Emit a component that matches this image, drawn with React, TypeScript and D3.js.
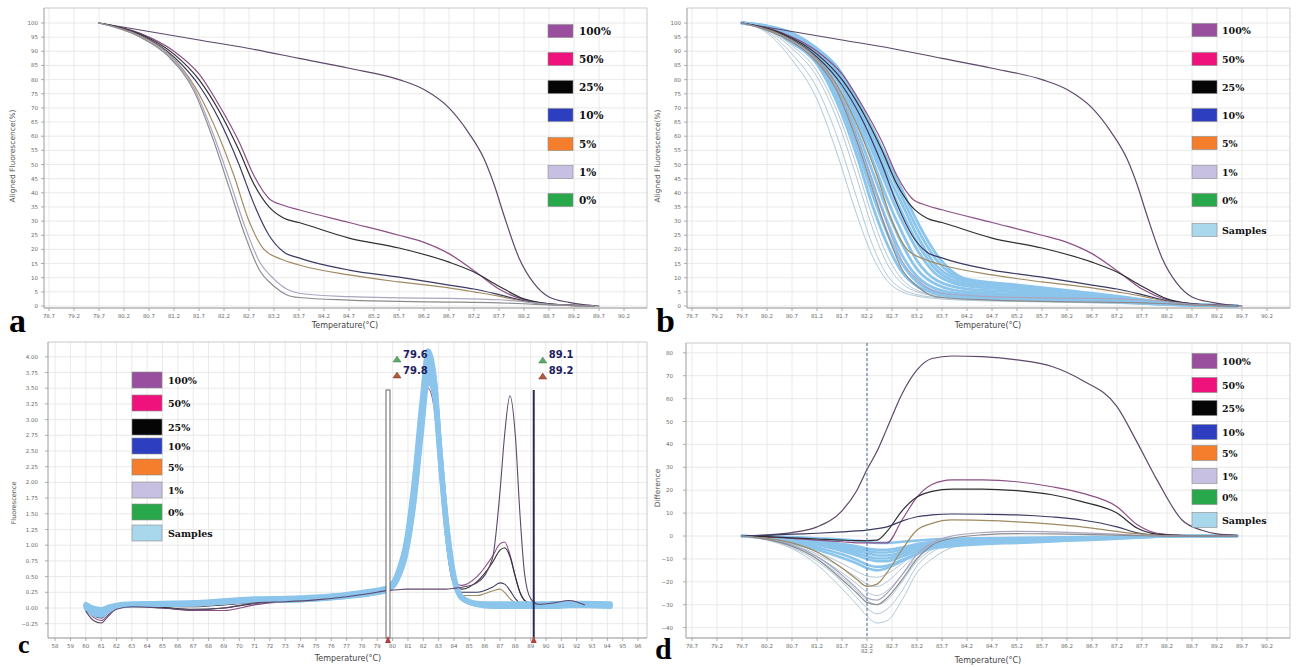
import React from 'react';
import * as d3 from 'd3';

// ---- tick values ----
const meltTicks = [78.7, 79.2, 79.7, 80.2, 80.7, 81.2, 81.7, 82.2, 82.7, 83.2, 83.7, 84.2, 84.7, 85.2, 85.7, 86.2, 86.7, 87.2, 87.7, 88.2, 88.7, 89.2, 89.7, 90.2];
const alignedTicks = [0, 5, 10, 15, 20, 25, 30, 35, 40, 45, 50, 55, 60, 65, 70, 75, 80, 85, 90, 95, 100];
const peakTicks = [58, 59, 60, 61, 62, 63, 64, 65, 66, 67, 68, 69, 70, 71, 72, 73, 74, 75, 76, 77, 78, 79, 80, 81, 82, 83, 84, 85, 86, 87, 88, 89, 90, 91, 92, 93, 94, 95, 96];
const peakYTicks = [-0.25, 0, 0.25, 0.5, 0.75, 1, 1.25, 1.5, 1.75, 2, 2.25, 2.5, 2.75, 3, 3.25, 3.5, 3.75, 4];
const diffYTicks = [-40, -30, -20, -10, 0, 10, 20, 30, 40, 50, 60, 70, 80];

// ---- legend ----
const stdNames = ['100%', '50%', '25%', '10%', '5%', '1%', '0%'];
const stdSwatch = ['#9a4f9e', '#f0127c', '#050505', '#2d3fc0', '#f47e2b', '#c8c0e2', '#29a74b'];
const stdLine = ['#5d4868', '#8c4f86', '#2e2e34', '#3b3b62', '#a08a62', '#aaa6c0', '#8a8c90'];
const sampleName = 'Samples';
const sampleSwatch = '#a9d8ec';
const sampleLine = '#8cc5ec';
const sampleLight = '#b2c8d6';

// ---- panel a / b : aligned melt curves (T, %) ----
const melt100 = [[79.7, 100], [80.7, 97], [81.7, 94], [82.7, 91], [83.7, 87.5], [84.7, 84], [85.7, 80], [86.2, 76.5], [86.7, 70], [87.1, 61], [87.4, 52], [87.6, 43], [87.8, 32], [88.1, 17], [88.4, 8], [88.7, 3.2], [89.1, 1.3], [89.5, 0.3], [89.7, 0]];
const melt50 = [[79.7, 100], [80.5, 96.5], [81.2, 90], [81.7, 82], [82.1, 71], [82.5, 58], [82.8, 46], [83.1, 38], [83.4, 35.5], [83.7, 34], [84.7, 29.5], [85.7, 25], [86.2, 22.5], [86.7, 18.5], [87.2, 12.5], [87.7, 6], [88.2, 2.2], [88.7, 0.8], [89.2, 0.3], [89.6, 0]];
const melt25 = [[79.7, 100], [80.5, 96.3], [81.2, 89], [81.7, 80], [82.1, 69], [82.5, 55], [82.8, 43], [83.1, 35], [83.4, 31], [83.7, 29.5], [84.7, 24], [85.7, 20.5], [86.7, 15.5], [87.2, 12], [87.7, 7], [88.2, 2.5], [88.7, 0.8], [89.6, 0]];
const melt10 = [[79.7, 100], [80.5, 96], [81.2, 88], [81.7, 78], [82.1, 66], [82.5, 50], [82.8, 36], [83.1, 25], [83.4, 19], [83.7, 17], [84.7, 12.7], [85.7, 10.2], [86.7, 7.4], [87.2, 6], [87.7, 4], [88.2, 1.8], [88.7, 0.6], [89.6, 0]];
const melt5 = [[79.7, 100], [80.5, 95.7], [81.1, 89], [81.6, 78], [82.0, 64], [82.4, 46], [82.7, 30], [83.0, 20], [83.35, 16.5], [83.7, 14.5], [84.7, 11], [85.7, 8.5], [86.7, 6.4], [87.2, 5], [87.7, 3.5], [88.2, 1.6], [88.7, 0.5], [89.6, 0]];
const melt1 = [[79.7, 100], [80.5, 95.3], [81.1, 88.5], [81.6, 77], [82.0, 60], [82.3, 45], [82.6, 29], [82.9, 16], [83.2, 9.5], [83.45, 6], [83.7, 4.5], [84.7, 3.3], [85.7, 2.9], [86.7, 2.7], [87.7, 2.2], [88.2, 1.5], [88.7, 0.6], [89.6, 0]];
const melt0 = [[79.7, 100], [80.5, 95.2], [81.1, 88], [81.6, 76], [82.0, 58], [82.3, 42], [82.6, 26], [82.9, 13], [83.2, 7], [83.45, 4], [83.7, 3], [84.7, 2.1], [85.7, 1.6], [86.7, 1.4], [87.7, 1.1], [88.2, 0.8], [88.7, 0.4], [89.6, 0]];
const meltStd = [melt100, melt50, melt25, melt10, melt5, melt1, melt0];

// panel b samples on a shared temperature grid
const meltSampleT = [79.7, 80.2, 80.7, 81.2, 81.6, 82.0, 82.3, 82.6, 82.9, 83.2, 83.6, 84.2, 85.2, 86.2, 87.2, 88.2, 89.2, 89.6];
const meltSamples = [
  [100, 99, 96.5, 91, 84.5, 73, 63, 52, 41, 30, 18, 9.5, 7.5, 5.5, 3.5, 1.2, 0.2, 0],
  [100, 98.9, 96.2, 90.5, 83.7, 71.5, 61, 49.5, 38.5, 27.5, 16, 9, 7.2, 5.2, 3.3, 1.1, 0.2, 0],
  [100, 98.8, 96, 90, 83, 70, 59, 47, 36, 25, 14, 8.5, 6.8, 5, 3.2, 1.1, 0.2, 0],
  [100, 98.7, 95.7, 89.7, 82.2, 68.5, 57, 44.5, 33, 22.5, 12.5, 7.7, 6.3, 4.7, 3, 1, 0.2, 0],
  [100, 98.6, 95.5, 89.5, 81.5, 67, 55, 42, 30, 20, 11, 7, 5.8, 4.4, 2.8, 1, 0.2, 0],
  [100, 98.5, 95, 89, 80, 65, 52, 38, 26, 16, 9, 6, 5, 3.9, 2.5, 0.9, 0.2, 0],
  [100, 98.4, 94.5, 88, 78, 62, 48, 34, 22, 13, 7.5, 5, 4.2, 3.4, 2.2, 0.8, 0.1, 0],
  [100, 98.3, 94, 87.5, 76, 59, 44, 30, 18, 10.5, 6, 4.2, 3.6, 3, 2, 0.7, 0.1, 0],
  [100, 98.2, 93.5, 86.5, 74, 56, 40, 26, 15, 8.5, 5, 3.5, 3, 2.6, 1.8, 0.6, 0.1, 0],
  [100, 98, 93, 85.5, 72, 53, 36, 22, 12, 7, 4.3, 3, 2.5, 2.2, 1.5, 0.5, 0.1, 0],
];
const meltSamplesLight = [
  [100, 97.8, 92, 83, 69, 49, 32, 18, 9.5, 5.5, 3.8, 2.7, 2.2, 1.8, 1.3, 0.4, 0.1, 0],
  [100, 97.5, 91, 81, 66, 45, 28, 15, 8, 5, 3.5, 2.5, 2, 1.7, 1.2, 0.4, 0.1, 0],
  [100, 97, 89, 77, 60, 38, 22, 11, 6, 4, 3, 2.2, 1.8, 1.5, 1, 0.3, 0, 0],
  [100, 96.5, 87, 73, 54, 32, 18, 9, 5, 3.5, 2.6, 2, 1.6, 1.3, 0.9, 0.3, 0, 0],
];

// ---- panel c : -dF/dT peaks ----
const peakT = [60, 60.5, 61, 61.5, 62, 63, 65, 67, 69, 71, 73, 75, 77, 78.5, 79.7, 80.3, 80.9, 81.4, 81.9, 82.3, 82.7, 83.1, 83.5, 83.9, 84.5, 85.5, 86.5, 87.0, 87.3, 87.65, 88.0, 88.3, 88.6, 89.0, 89.5, 90.5, 91.5, 92.5, 94.2];
const peak100 = [-0.05, -0.2, -0.24, -0.12, -0.02, 0.02, 0.0, -0.03, 0.0, 0.08, 0.1, 0.13, 0.18, 0.23, 0.28, 0.29, 0.3, 0.3, 0.3, 0.3, 0.3, 0.3, 0.3, 0.31, 0.33, 0.4, 0.78, 1.85, 2.75, 3.38, 2.75, 1.5, 0.55, 0.15, 0.06, 0.08, 0.12, 0.05, null];
const peak50 = [-0.02, -0.15, -0.2, -0.1, 0, 0.02, 0.0, -0.04, -0.04, 0.05, 0.1, 0.13, 0.18, 0.22, 0.3, 0.45, 0.9, 1.75, 2.95, 3.5, 3.2, 2.1, 1.05, 0.45, 0.36, 0.5, 0.82, 1.02, 1.05, 0.85, 0.5, 0.25, 0.12, 0.08, 0.06, 0.1, 0.08, 0.05, null];
const peak25 = [0, -0.12, -0.16, -0.06, 0.01, 0.03, 0.01, -0.02, 0.0, 0.07, 0.1, 0.13, 0.18, 0.22, 0.29, 0.45, 0.9, 1.75, 2.95, 3.6, 3.3, 2.2, 1.1, 0.45, 0.3, 0.42, 0.72, 0.92, 0.96, 0.82, 0.5, 0.25, 0.12, 0.07, 0.05, 0.07, 0.06, 0.05, null];
const peak10 = [0.01, -0.08, -0.1, -0.03, 0.02, 0.04, 0.03, 0.02, 0.05, 0.09, 0.11, 0.14, 0.19, 0.23, 0.29, 0.47, 0.95, 1.8, 3.0, 3.7, 3.4, 2.3, 1.15, 0.47, 0.25, 0.25, 0.33, 0.4, 0.38, 0.28, 0.15, 0.08, 0.05, 0.05, 0.05, 0.06, 0.06, 0.05, null];
const peak5 = [0.02, -0.06, -0.08, -0.02, 0.02, 0.04, 0.04, 0.03, 0.06, 0.1, 0.11, 0.14, 0.19, 0.23, 0.29, 0.47, 0.98, 1.85, 3.05, 3.75, 3.45, 2.35, 1.2, 0.47, 0.2, 0.2, 0.27, 0.3, 0.25, 0.15, 0.08, 0.05, 0.04, 0.04, 0.04, 0.05, 0.05, 0.05, null];
const peak1 = [0.02, -0.05, -0.06, 0, 0.03, 0.05, 0.05, 0.05, 0.08, 0.11, 0.12, 0.15, 0.19, 0.23, 0.29, 0.47, 1.0, 1.85, 3.05, 3.85, 3.5, 2.35, 1.2, 0.5, 0.15, 0.08, 0.06, 0.06, 0.05, 0.05, 0.05, 0.04, 0.04, 0.04, 0.04, 0.05, 0.05, 0.05, null];
const peak0 = [0.03, -0.04, -0.05, 0, 0.03, 0.05, 0.05, 0.06, 0.08, 0.11, 0.12, 0.15, 0.19, 0.23, 0.29, 0.47, 1.0, 1.85, 3.05, 3.9, 3.5, 2.35, 1.25, 0.52, 0.15, 0.06, 0.05, 0.05, 0.05, 0.05, 0.05, 0.04, 0.04, 0.04, 0.04, 0.05, 0.05, 0.05, null];
const peakStd = [peak100, peak50, peak25, peak10, peak5, peak1, peak0];
const peakSamples = [
  [0.05, -0.02, -0.04, 0.01, 0.04, 0.06, 0.07, 0.08, 0.11, 0.13, 0.14, 0.16, 0.2, 0.25, 0.31, 0.5, 1.0, 1.9, 3.15, 4.1, 3.75, 2.5, 1.35, 0.6, 0.17, 0.07, 0.05, 0.05, 0.05, 0.05, 0.05, 0.05, 0.05, 0.05, 0.05, 0.05, 0.06, 0.06, 0.05],
  [0.03, -0.05, -0.07, -0.01, 0.03, 0.05, 0.06, 0.07, 0.1, 0.12, 0.13, 0.15, 0.19, 0.24, 0.3, 0.48, 0.95, 1.8, 3.0, 3.95, 3.7, 2.55, 1.4, 0.62, 0.16, 0.06, 0.04, 0.04, 0.04, 0.04, 0.04, 0.04, 0.04, 0.04, 0.04, 0.04, 0.05, 0.05, 0.04],
  [0.0, -0.1, -0.12, -0.04, 0.02, 0.05, 0.06, 0.06, 0.09, 0.11, 0.12, 0.14, 0.18, 0.23, 0.29, 0.46, 0.9, 1.7, 2.9, 3.8, 3.6, 2.5, 1.4, 0.63, 0.15, 0.05, 0.03, 0.03, 0.03, 0.03, 0.03, 0.03, 0.03, 0.03, 0.03, 0.03, 0.04, 0.04, 0.03],
  [0.04, -0.03, -0.05, 0.0, 0.03, 0.06, 0.07, 0.08, 0.11, 0.14, 0.15, 0.17, 0.21, 0.26, 0.32, 0.52, 1.05, 1.95, 3.05, 3.7, 3.4, 2.3, 1.25, 0.55, 0.16, 0.07, 0.06, 0.06, 0.06, 0.06, 0.06, 0.06, 0.06, 0.06, 0.06, 0.06, 0.07, 0.07, 0.06],
  [0.02, -0.08, -0.1, -0.02, 0.02, 0.04, 0.05, 0.06, 0.09, 0.12, 0.12, 0.14, 0.18, 0.22, 0.28, 0.44, 0.88, 1.65, 2.8, 3.6, 3.45, 2.45, 1.45, 0.68, 0.18, 0.05, 0.02, 0.02, 0.02, 0.02, 0.02, 0.02, 0.02, 0.02, 0.02, 0.02, 0.03, 0.03, 0.02],
  [0.06, 0.0, -0.02, 0.02, 0.05, 0.07, 0.08, 0.09, 0.12, 0.15, 0.16, 0.18, 0.22, 0.27, 0.33, 0.55, 1.1, 2.05, 3.3, 4.05, 3.6, 2.35, 1.25, 0.55, 0.18, 0.08, 0.07, 0.07, 0.07, 0.07, 0.07, 0.07, 0.07, 0.07, 0.07, 0.07, 0.08, 0.08, 0.07],
];
const cursorT = [79.7, 89.2];
const cursorFlags = [['79.6', '79.8'], ['89.1', '89.2']];

// ---- panel d : difference plot ----
const diffT = [79.7, 80.2, 80.7, 81.2, 81.7, 82.0, 82.2, 82.4, 82.6, 82.9, 83.2, 83.5, 83.9, 84.5, 85.2, 85.9, 86.5, 87.2, 87.6, 88.0, 88.5, 88.9, 89.2, 89.6];
const diff100 = [0, 0.5, 1.5, 4, 11, 20, 29, 37, 47, 62, 72.5, 77.5, 78.6, 78.3, 76.9, 74, 68, 56.5, 41, 24.5, 7, 2.5, 0.9, 0.3];
const diff50 = [0, -0.5, -1, -1.8, -2.5, -3, -3, -3, -3, 7, 17, 22.5, 24.5, 24.5, 23.7, 21.5, 18.7, 12.8, 5, 1.2, 0.3, 0, 0, 0];
const diff25 = [0, -0.3, -0.8, -1.3, -1.8, -2, -2, -1.8, 2, 11, 17, 19.5, 20.5, 20.5, 19.8, 18, 15, 10, 3.5, 0.8, 0.2, 0, 0, 0];
const diff10 = [0, 0.3, 0.8, 1.2, 1.8, 2.2, 2.6, 3.2, 4, 6.5, 8.4, 9.2, 9.6, 9.5, 9.2, 8.3, 7, 4, 1.4, 0.3, 0, 0, 0, 0];
const diff5 = [0, -1, -3, -7, -14, -19, -22, -21, -16, -6, 2.6, 5.5, 7, 6.8, 6.2, 5.2, 4, 2, 1, 0.3, 0, 0, 0, 0];
const diff1 = [0, -1.5, -4, -9, -17, -23, -27, -28, -25, -17, -8, -3, 0, 1.5, 2, 1.8, 1.4, 0.8, 0.4, 0.1, 0, 0, 0, 0];
const diff0 = [0, -1.5, -4.5, -10, -19, -25, -29, -30, -27, -19, -10, -4, -1, 0.5, 1, 0.9, 0.7, 0.4, 0.2, 0, 0, 0, 0, 0];
const diffStd = [diff100, diff50, diff25, diff10, diff5, diff1, diff0];
const diffSamples = [
  [0, -0.2, -0.5, -1, -1.5, -2, -2.5, -3, -3, -2.5, -2, -1.5, -1.2, -1, -0.8, -0.6, -0.5, -0.3, -0.2, -0.1, 0, 0, 0, 0],
  [0, -0.3, -1, -2, -3.5, -4.5, -5.5, -6, -6, -5, -3.5, -2.5, -2, -1.6, -1.3, -1, -0.8, -0.5, -0.3, -0.15, 0, 0, 0, 0],
  [0, -0.4, -1.2, -2.5, -4.2, -5.5, -6.5, -7.2, -7.2, -6, -4.2, -3, -2.4, -1.9, -1.5, -1.2, -0.9, -0.6, -0.35, -0.2, 0, 0, 0, 0],
  [0, -0.5, -1.5, -3, -5, -6.5, -7.5, -8.5, -8.5, -7, -5, -3.5, -2.8, -2.2, -1.8, -1.4, -1.1, -0.7, -0.4, -0.2, 0, 0, 0, 0],
  [0, -0.6, -1.8, -3.5, -5.8, -7.5, -8.8, -9.8, -9.8, -8, -5.8, -4, -3.2, -2.5, -2, -1.6, -1.2, -0.8, -0.45, -0.2, 0, 0, 0, 0],
  [0, -0.7, -2, -4, -6.5, -8.5, -10, -11, -11, -9, -6.5, -4.5, -3.5, -2.8, -2.3, -1.8, -1.4, -0.9, -0.5, -0.2, 0, 0, 0, 0],
  [0, -1, -2.5, -5, -8, -10.5, -12.5, -13.5, -13, -10.5, -7.5, -5, -4, -3.2, -2.6, -2.1, -1.6, -1, -0.6, -0.3, 0, 0, 0, 0],
  [0, -1.2, -3, -6, -9.5, -12, -14, -15, -14, -11, -8, -5.5, -4.5, -3.6, -3, -2.4, -1.8, -1.2, -0.7, -0.3, 0, 0, 0, 0],
];
const diffSamplesLight = [
  [0, -1, -3, -7, -12, -15.5, -17.5, -18, -16.5, -12, -7, -4, -2.5, -1.5, -1, -0.6, -0.4, -0.2, -0.1, 0, 0, 0, 0, 0],
  [0, -1.2, -3.5, -8, -14, -18, -21, -22, -20, -14, -8, -4.5, -2.5, -1.5, -1, -0.6, -0.4, -0.2, -0.1, 0, 0, 0, 0, 0],
  [0, -1.3, -4, -9, -16, -21, -24.5, -26, -24, -17, -9.5, -5, -2.8, -1.6, -1, -0.6, -0.4, -0.2, -0.1, 0, 0, 0, 0, 0],
  [0, -1.5, -4.5, -10, -18, -24, -28, -30, -28, -20, -11, -6, -3, -1.7, -1.1, -0.7, -0.4, -0.2, -0.1, 0, 0, 0, 0, 0],
  [0, -1.6, -5, -11, -20, -27, -31.5, -34, -32, -24, -13, -7, -3.5, -1.9, -1.2, -0.7, -0.5, -0.2, -0.1, 0, 0, 0, 0, 0],
  [0, -1.8, -5.5, -12.5, -23, -30, -35, -38, -37, -28, -16, -10, -5, -2.5, -1.5, -1, -0.7, -0.4, -0.2, 0, 0, 0, 0, 0],
];
const diffMarkT = 82.2;

// ------------------------------------------------------------------
const FONT = 'DejaVu Sans, sans-serif';
const LEG_FONT = 'DejaVu Serif, serif';
const LETTER_FONT = 'Liberation Serif, serif';

const zip = (ts, vs) => ts.map((t, i) => [t, vs[i]]);

// x scale pinned so that value v0 sits at pixel p0
function xScale(v0, p0, ppu, left, right) {
  return d3.scaleLinear()
    .domain([v0 + (left - p0) / ppu, v0 + (right - p0) / ppu])
    .range([left, right]);
}
function yScale(v0, p0, ppu, top, bottom) {
  return d3.scaleLinear()
    .domain([v0 - (bottom - p0) / ppu, v0 + (p0 - top) / ppu])
    .range([bottom, top]);
}

function Curve({ pts, x, y, color, width, clip }) {
  const gen = d3.line()
    .defined(d => d[1] !== null && d[1] !== undefined)
    .x(d => x(d[0]))
    .y(d => y(d[1]))
    .curve(d3.curveMonotoneX);
  return <path d={gen(pts) || ''} fill="none" stroke={color} strokeWidth={width}
    strokeLinejoin="round" strokeLinecap="round" clipPath={`url(#${clip})`} />;
}

function Frame({ id, x, y, xTicks, yTicks, xFmt, yFmt, yLabelGap, xTitle, xTitleX, xTitleY, yTitle, yTitleX, yTitleY, yTitleSize }) {
  const [left, right] = x.range();
  const [bottom, top] = y.range();
  return (
    <g>
      <defs>
        <clipPath id={id}><rect x={left} y={top} width={right - left} height={bottom - top} /></clipPath>
      </defs>
      {xTicks.map(t => (
        <line key={'gx' + t} x1={x(t)} x2={x(t)} y1={top} y2={bottom} stroke="#e4e4e4" strokeWidth={0.8} />
      ))}
      {yTicks.map(t => (
        <line key={'gy' + t} x1={left} x2={right} y1={y(t)} y2={y(t)} stroke="#e4e4e4" strokeWidth={0.8} />
      ))}
      <line x1={left} x2={right} y1={top} y2={top} stroke="#c9c9c9" strokeWidth={1} />
      <line x1={right} x2={right} y1={top} y2={bottom} stroke="#c9c9c9" strokeWidth={1} />
      <line x1={left} x2={left} y1={top} y2={bottom} stroke="#9b9b9b" strokeWidth={1} />
      <line x1={left} x2={right} y1={bottom} y2={bottom} stroke="#8f8f8f" strokeWidth={1.2} />
      {xTicks.map(t => (
        <g key={'tx' + t}>
          <line x1={x(t)} x2={x(t)} y1={bottom} y2={bottom + 3} stroke="#999" strokeWidth={0.8} />
          <text x={x(t)} y={bottom + 10} fontSize={5.5} fill="#6a6a6a" textAnchor="middle" fontFamily={FONT}>{xFmt(t)}</text>
        </g>
      ))}
      {yTicks.map(t => (
        <g key={'ty' + t}>
          <line x1={left - 3} x2={left} y1={y(t)} y2={y(t)} stroke="#999" strokeWidth={0.8} />
          <text x={left - yLabelGap} y={y(t) + 2} fontSize={5.5} fill="#6a6a6a" textAnchor="end" fontFamily={FONT}>{yFmt(t)}</text>
        </g>
      ))}
      <text x={xTitleX} y={xTitleY} fontSize={8} fill="#444" textAnchor="middle" fontFamily={FONT}>{xTitle}</text>
      <text transform={`translate(${yTitleX},${yTitleY}) rotate(-90)`} fontSize={yTitleSize} fill="#555"
        textAnchor="middle" fontFamily={FONT}>{yTitle}</text>
    </g>
  );
}

function Legend({ x, centers, w, h, labelX, withSamples, size }) {
  const names = withSamples ? [...stdNames, sampleName] : stdNames;
  const colors = withSamples ? [...stdSwatch, sampleSwatch] : stdSwatch;
  return (
    <g>
      {names.map((n, i) => (
        <g key={n}>
          <rect x={x} y={centers[i] - h / 2} width={w} height={h} fill={colors[i]} stroke="#8a8a8a" strokeWidth={0.6} />
          <text x={labelX} y={centers[i] + 3.5} fontSize={size} fontWeight="bold" fill="#111" fontFamily={LEG_FONT}>{n}</text>
        </g>
      ))}
    </g>
  );
}

function Letter({ x, y, size, ch }) {
  return <text x={x} y={y} fontSize={size} fontWeight="bold" fill="#000" fontFamily={LETTER_FONT}>{ch}</text>;
}

const fmt1 = d3.format('.1f');
const fmt2 = d3.format('.2f');
const fmt0 = d3.format('d');

export default function App() {
  // panel a
  const xA = xScale(78.7, 49, 50, 44, 647);
  const yA = yScale(0, 306, 2.83, 8, 308);
  // panel b
  const xB = xScale(78.7, 692, 50, 687, 1290);
  const yB = yScale(0, 306, 2.83, 8, 308);
  // panel c
  const xC = xScale(79.7, 388, 15.34, 48, 647);
  const yC = yScale(0, 608, 62.8, 342, 638);
  // panel d
  const xD = xScale(78.7, 692, 50, 686, 1290);
  const yD = yScale(0, 536, 2.29, 343, 638);

  const meltCurves = (x, y, clip) => meltStd.map((s, i) => (
    <Curve key={'m' + i} pts={s} x={x} y={y} color={stdLine[i]} width={1.2} clip={clip} />
  ));

  return (
    <svg width={1298} height={667} style={{ position: 'absolute', left: 0, top: 0, background: '#fff' }}>
      <rect x={0} y={0} width={1298} height={667} fill="#fff" />

      {/* ---- a ---- */}
      <Frame id="clipA" x={xA} y={yA} xTicks={meltTicks} yTicks={alignedTicks} xFmt={fmt1} yFmt={fmt0} yLabelGap={6}
        xTitle="Temperature(°C)" xTitleX={345} xTitleY={328} yTitle="Aligned Fluorescence(%)" yTitleX={15} yTitleY={156} yTitleSize={7.5} />
      {meltCurves(xA, yA, 'clipA')}
      <Legend x={548} centers={[31, 59, 87, 115, 144, 172, 200]} w={25} h={13} labelX={579} withSamples={false} size={10.5} />
      <Letter x={9} y={332} size={34} ch="a" />

      {/* ---- b ---- */}
      <Frame id="clipB" x={xB} y={yB} xTicks={meltTicks} yTicks={alignedTicks} xFmt={fmt1} yFmt={fmt0} yLabelGap={6}
        xTitle="Temperature(°C)" xTitleX={988} xTitleY={328} yTitle="Aligned Fluorescence(%)" yTitleX={660} yTitleY={156} yTitleSize={7.5} />
      {meltSamplesLight.map((s, i) => (
        <Curve key={'bl' + i} pts={zip(meltSampleT, s)} x={xB} y={yB} color={sampleLight} width={1} clip="clipB" />
      ))}
      {meltSamples.map((s, i) => (
        <Curve key={'bs' + i} pts={zip(meltSampleT, s)} x={xB} y={yB} color={sampleLine} width={2.8} clip="clipB" />
      ))}
      {meltCurves(xB, yB, 'clipB')}
      <Legend x={1192} centers={[30, 59, 87, 115, 143, 172, 200, 230]} w={25} h={13} labelX={1222} withSamples={true} size={9.5} />
      <Letter x={656} y={332} size={34} ch="b" />

      {/* ---- c ---- */}
      <Frame id="clipC" x={xC} y={yC} xTicks={peakTicks} yTicks={peakYTicks} xFmt={fmt0} yFmt={fmt2} yLabelGap={10}
        xTitle="Temperature(°C)" xTitleX={348} xTitleY={661} yTitle="Fluorescence" yTitleX={16} yTitleY={503} yTitleSize={6.5} />
      {peakStd.slice(1).map((s, i) => (
        <Curve key={'cs' + i} pts={zip(peakT, s)} x={xC} y={yC} color={stdLine[i + 1]} width={1.1} clip="clipC" />
      ))}
      {peakSamples.map((s, i) => (
        <Curve key={'cp' + i} pts={zip(peakT, s)} x={xC} y={yC} color={sampleLine} width={4.5} clip="clipC" />
      ))}
      <Curve pts={zip(peakT, peak100)} x={xC} y={yC} color={stdLine[0]} width={1.1} clip="clipC" />
      {/* cursors */}
      <rect x={xC(cursorT[0]) - 2} y={390} width={4} height={638 - 390} fill="#fff" stroke="#555" strokeWidth={0.9} />
      <line x1={xC(cursorT[1])} x2={xC(cursorT[1])} y1={390} y2={638} stroke="#2a2a55" strokeWidth={2} />
      {cursorT.map((t, i) => (
        <g key={'cur' + i}>
          <path d={`M${xC(t) - 3},643 L${xC(t) + 3},643 L${xC(t)},636 Z`} fill="#b04040" />
          <path d={`M${xC(t) + 5},${i ? 363 : 362} l4,-6 l4,6 Z`} fill="#5cab6a" stroke="#3d7a48" strokeWidth={0.5} />
          <path d={`M${xC(t) + 5},${i ? 379 : 378} l4,-6 l4,6 Z`} fill="#b5573d" stroke="#6d3020" strokeWidth={0.5} />
          <text x={xC(t) + 15} y={358} fontSize={10} fontWeight="bold" fill="#1c2060" fontFamily={FONT}>{cursorFlags[i][0]}</text>
          <text x={xC(t) + 15} y={374} fontSize={10} fontWeight="bold" fill="#1c2060" fontFamily={FONT}>{cursorFlags[i][1]}</text>
        </g>
      ))}
      <Legend x={132} centers={[380, 403, 427, 446, 467, 490, 512, 533]} w={30} h={16} labelX={168} withSamples={true} size={9.5} />
      <Letter x={18} y={653} size={26} ch="c" />

      {/* ---- d ---- */}
      <Frame id="clipD" x={xD} y={yD} xTicks={meltTicks} yTicks={diffYTicks} xFmt={fmt1} yFmt={fmt0} yLabelGap={13}
        xTitle="Temperature(°C)" xTitleX={988} xTitleY={663} yTitle="Difference" yTitleX={660} yTitleY={488} yTitleSize={7.5} />
      {diffSamplesLight.map((s, i) => (
        <Curve key={'dl' + i} pts={zip(diffT, s)} x={xD} y={yD} color={sampleLight} width={1} clip="clipD" />
      ))}
      {diffSamples.map((s, i) => (
        <Curve key={'ds' + i} pts={zip(diffT, s)} x={xD} y={yD} color={sampleLine} width={2.6} clip="clipD" />
      ))}
      {diffStd.map((s, i) => (
        <Curve key={'dd' + i} pts={zip(diffT, s)} x={xD} y={yD} color={stdLine[i]} width={1.2} clip="clipD" />
      ))}
      <line x1={xD(diffMarkT)} x2={xD(diffMarkT)} y1={343} y2={638} stroke="#5a7aa6" strokeWidth={1.1} strokeDasharray="3,2" />
      <text x={xD(diffMarkT)} y={653} fontSize={5.5} fill="#6a6a6a" textAnchor="middle" fontFamily={FONT}>{fmt1(diffMarkT)}</text>
      <Legend x={1192} centers={[361, 385, 408, 432, 453, 476, 497, 520]} w={25} h={15} labelX={1222} withSamples={true} size={9.5} />
      <Letter x={655} y={659} size={30} ch="d" />
    </svg>
  );
}
